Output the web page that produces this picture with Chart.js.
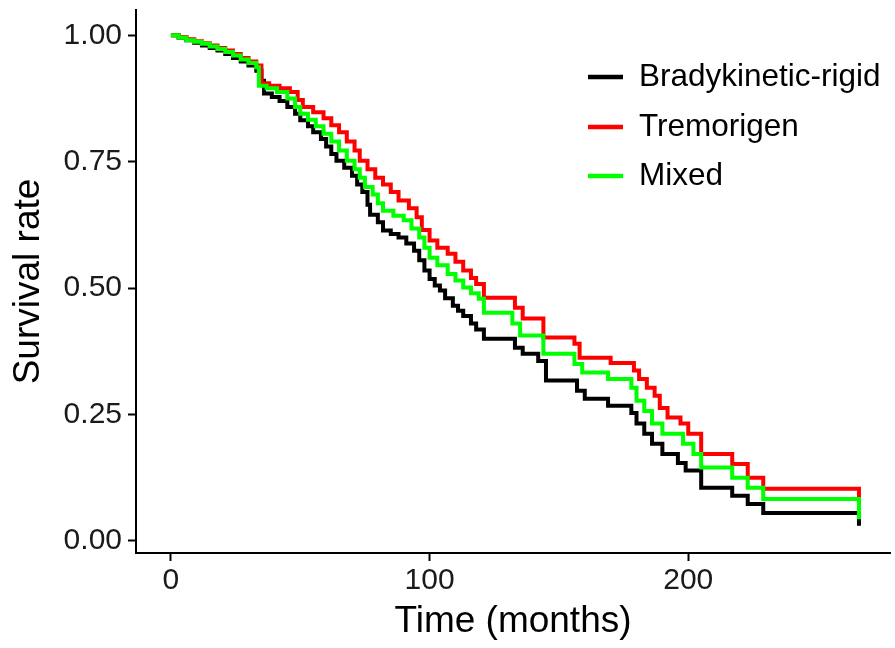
<!DOCTYPE html>
<html>
<head>
<meta charset="utf-8">
<script src="https://cdn.jsdelivr.net/npm/chart.js@4/dist/chart.umd.min.js"></script>
<style>
  html, body { margin: 0; padding: 0; background: #fff; }
  #wrap { width: 895px; height: 648px; position: relative; }
  canvas { display: block; }
</style>
</head>
<body>
<div id="wrap"><canvas id="c" width="895" height="648"></canvas></div>
<script>
// ---- data ----
const seriesNames = ['Bradykinetic-rigid', 'Tremorigen', 'Mixed'];
const seriesColors = ['#000000', '#ff0000', '#00ff00'];

const bradyTimes = [0,3,6,9,12,15,18,21,24,27,30,33,35,36,39,42,45,48,50,53,55,58,60,62,64,67,70,72,74,76,77,80,82,85,88,91,94,96,98,100,102,104,106,109,111,113,116,118,121,133,136,142,145,157,160,169,178,180,183,186,190,196,199,205,217,223,229,266];
const bradySurv  = [1.0,0.995,0.99,0.985,0.98,0.975,0.97,0.963,0.955,0.948,0.94,0.93,0.91,0.885,0.878,0.87,0.858,0.845,0.832,0.82,0.808,0.795,0.78,0.765,0.752,0.738,0.722,0.705,0.69,0.665,0.645,0.63,0.614,0.607,0.6,0.588,0.574,0.555,0.535,0.518,0.505,0.495,0.48,0.465,0.455,0.445,0.43,0.418,0.4,0.382,0.37,0.356,0.317,0.297,0.281,0.267,0.253,0.232,0.212,0.192,0.172,0.154,0.139,0.105,0.089,0.073,0.055,0.03];

const tremorTimes = [0,3,6,9,12,15,18,21,24,27,30,33,35,38,42,46,49,51,55,59,62,65,68,71,73,76,79,82,85,88,92,95,97,100,103,107,110,113,116,118,121,133,136,144,156,158,170,179,181,184,187,189,192,197,200,205,217,223,229,266];
const tremorSurv  = [1.0,0.996,0.992,0.988,0.984,0.98,0.975,0.97,0.963,0.955,0.948,0.94,0.905,0.9,0.895,0.888,0.872,0.858,0.848,0.836,0.822,0.808,0.79,0.772,0.752,0.735,0.718,0.705,0.69,0.673,0.658,0.64,0.615,0.594,0.58,0.568,0.552,0.535,0.52,0.508,0.481,0.461,0.44,0.402,0.39,0.362,0.352,0.337,0.32,0.303,0.287,0.263,0.244,0.232,0.212,0.172,0.152,0.125,0.103,0.073];

const mixedTimes = [0,3,6,9,12,15,18,21,24,27,30,33,34,37,41,45,48,50,53,56,59,62,65,68,71,73,75,78,80,82,86,90,93,96,98,100,103,107,110,113,116,119,121,132,135,144,156,159,169,178,180,183,186,190,198,202,205,217,223,229,266];
const mixedSurv  = [1.0,0.995,0.99,0.987,0.983,0.978,0.973,0.967,0.96,0.952,0.945,0.937,0.9,0.895,0.888,0.875,0.858,0.845,0.833,0.82,0.805,0.79,0.772,0.752,0.735,0.718,0.7,0.685,0.668,0.653,0.643,0.634,0.618,0.6,0.58,0.56,0.545,0.528,0.515,0.501,0.49,0.479,0.451,0.43,0.406,0.37,0.35,0.333,0.32,0.303,0.277,0.257,0.232,0.212,0.192,0.172,0.145,0.125,0.105,0.083,0.043];

const xTicks = [0, 100, 200];
const xTickLabels = ['0', '100', '200'];
const yTicks = [0, 0.25, 0.5, 0.75, 1.0];
const yTickLabels = ['0.00', '0.25', '0.50', '0.75', '1.00'];

// ---- build datasets ----
function pts(ts, ss) { return ts.map((t, i) => ({ x: t, y: ss[i] })); }
const seriesData = [pts(bradyTimes, bradySurv), pts(tremorTimes, tremorSurv), pts(mixedTimes, mixedSurv)];

const drawOrder = [3, 2, 1];
const datasets = seriesNames.map((name, i) => ({
  label: name,
  data: seriesData[i],
  borderColor: seriesColors[i],
  backgroundColor: seriesColors[i],
  borderWidth: 4,
  stepped: 'before',
  pointRadius: 0,
  fill: false,
  order: drawOrder[i]
}));

const FONT = "'Liberation Sans', Arial, Helvetica, sans-serif";

const legendPlugin = {
  id: 'insideLegend',
  afterDraw(chart) {
    const ctx = chart.ctx;
    const rows = [77, 127, 176];
    ctx.save();
    chart.data.datasets.forEach((ds, i) => {
      const y = rows[i];
      ctx.strokeStyle = ds.borderColor;
      ctx.lineWidth = 4.5;
      ctx.beginPath();
      ctx.moveTo(588, y);
      ctx.lineTo(623, y);
      ctx.stroke();
      ctx.fillStyle = '#000';
      ctx.font = "31.5px " + FONT;
      ctx.textBaseline = 'middle';
      ctx.textAlign = 'left';
      ctx.fillText(ds.label, 639, y);
    });
    ctx.restore();
  }
};

new Chart(document.getElementById('c'), {
  type: 'line',
  data: { datasets },
  options: {
    responsive: false,
    animation: false,
    devicePixelRatio: 1,
    layout: { padding: { top: 10, right: 5, left: 0, bottom: 0 } },
    plugins: { legend: { display: false }, tooltip: { enabled: false } },
    scales: {
      x: {
        type: 'linear',
        min: -13.5,
        max: 278,
        afterBuildTicks: (s) => { s.ticks = xTicks.map(v => ({ value: v })); },
        afterFit: (s) => { s.height = 95; s.paddingLeft = 0; s.paddingRight = 0; },
        ticks: {
          color: '#1a1a1a',
          font: { family: FONT, size: 30 },
          padding: 2,
          maxRotation: 0,
          callback: (v) => { const k = xTicks.indexOf(v); return k >= 0 ? xTickLabels[k] : ''; }
        },
        grid: { drawOnChartArea: false, drawTicks: true, tickLength: 8, tickWidth: 2, tickColor: '#000' },
        border: { display: true, color: '#000', width: 2 },
        title: { display: true, text: 'Time (months)', color: '#000', font: { family: FONT, size: 37 }, padding: { top: 0, bottom: 4 } }
      },
      y: {
        type: 'linear',
        min: -0.024,
        max: 1.05,
        afterBuildTicks: (s) => { s.ticks = yTicks.map(v => ({ value: v })); },
        afterFit: (s) => { s.width = 136; s.paddingTop = 0; s.paddingBottom = 0; },
        ticks: {
          color: '#1a1a1a',
          font: { family: FONT, size: 30 },
          padding: 6,
          callback: (v) => { const k = yTicks.findIndex(t => Math.abs(t - v) < 1e-9); return k >= 0 ? yTickLabels[k] : ''; }
        },
        grid: { drawOnChartArea: false, drawTicks: true, tickLength: 8, tickWidth: 2, tickColor: '#000' },
        border: { display: true, color: '#000', width: 2 },
        title: { display: true, text: 'Survival rate', color: '#000', font: { family: FONT, size: 37 }, padding: { top: 7, bottom: 0 } }
      }
    }
  },
  plugins: [legendPlugin]
});
</script>
</body>
</html>
